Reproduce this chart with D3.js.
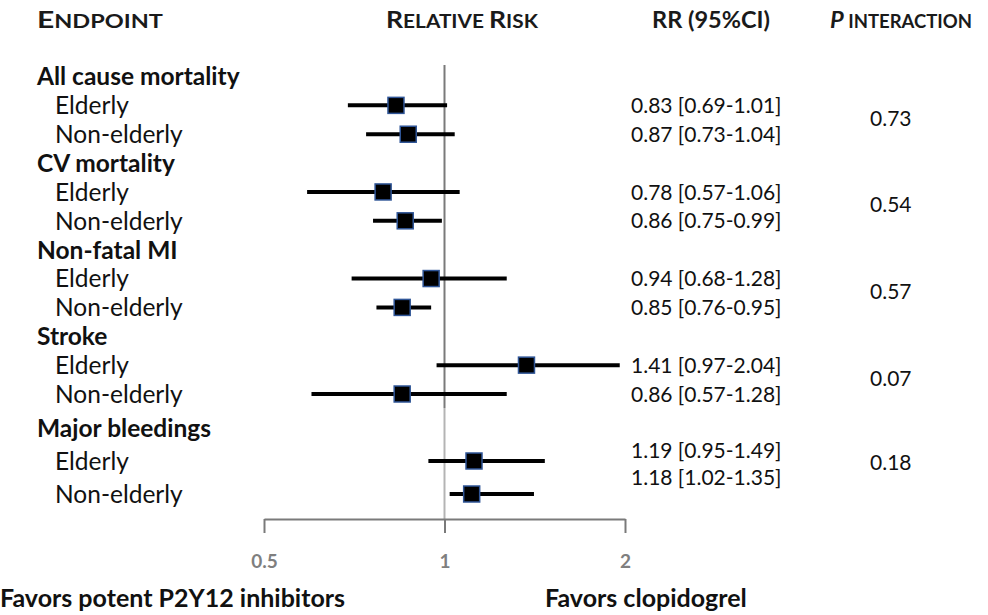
<!DOCTYPE html>
<html><head><meta charset="utf-8">
<script src="https://cdn.jsdelivr.net/npm/d3@7"></script>
<style>
html,body{margin:0;padding:0;background:#fff;}
svg{display:block;font-family:Lato,"Open Sans",sans-serif;}
</style></head>
<body>
<svg id="chart" width="988" height="615"></svg>
<script>
// ---- data ----
const endpoints = ["All cause mortality","CV mortality","Non-fatal MI","Stroke","Major bleedings"];
const subgroups = ["Elderly","Non-elderly"];
// point estimates and CI as plotted, in row order
const rrPlot = [0.83,0.87, 0.79,0.86, 0.95,0.85, 1.37,0.85, 1.12,1.11];
const loPlot = [0.69,0.74, 0.59,0.76, 0.70,0.77, 0.97,0.60, 0.94,1.02];
const hiPlot = [1.01,1.04, 1.06,0.99, 1.27,0.95, 1.96,1.27, 1.47,1.41];
const rrLabels = ["0.83 [0.69-1.01]","0.87 [0.73-1.04]","0.78 [0.57-1.06]","0.86 [0.75-0.99]",
  "0.94 [0.68-1.28]","0.85 [0.76-0.95]","1.41 [0.97-2.04]","0.86 [0.57-1.28]",
  "1.19 [0.95-1.49]","1.18 [1.02-1.35]"];
const pInteraction = ["0.73","0.54","0.57","0.07","0.18"];
const tickValues = [0.5,1,2];
const tickLabels = ["0.5","1","2"];

// ---- layout ----
const svg = d3.select("#chart");
const x = d3.scaleLog().base(2).domain([0.5,2]).range([264,625]);
// slot index: each endpoint uses 3 slots (header, elderly, non-elderly)
const rowY = d3.scaleLinear().domain([0,11,12,14]).range([76.5,394,428,494]);
const textRowY = d3.scaleLinear().domain([0,11,13,14]).range([76.5,394,450,477]);

// column headers (small caps)
function smallCaps(xp, y, len, parts){
  const t = svg.append("text").attr("x",xp).attr("y",y)
    .attr("font-weight","bold").attr("fill","#1a1a1a")
    .attr("textLength",len).attr("lengthAdjust","spacingAndGlyphs");
  parts.forEach(p=>t.append("tspan").attr("font-size",p[1]).attr("font-style",p[2]||null).text(p[0]));
}
smallCaps(37,28,126,[["E",23],["NDPOINT",18]]);
smallCaps(386,28,152,[["R",23],["ELATIVE ",18],["R",23],["ISK",18]]);
smallCaps(652,28,118,[["RR (95%CI)",23]]);
smallCaps(830,28,142,[["P",23,"italic"],[" INTERACTION",18]]);

// reference line at RR = 1
svg.append("line").attr("x1",x(1)).attr("x2",x(1)).attr("y1",65).attr("y2",408)
  .attr("stroke","#7a7a7a").attr("stroke-width",2);
svg.append("line").attr("x1",x(1)).attr("x2",x(1)).attr("y1",408).attr("y2",519)
  .attr("stroke","#b4b4b4").attr("stroke-width",2);

// axis
const axis = d3.axisBottom(x).tickValues(tickValues).tickFormat((d,i)=>tickLabels[i])
  .tickSizeInner(14).tickSizeOuter(0).tickPadding(22);
const ag = svg.append("g").attr("transform","translate(0,519)").call(axis);
ag.select(".domain").attr("stroke","#7a7a7a").attr("stroke-width",2);
ag.selectAll(".tick line").attr("stroke","#7a7a7a").attr("stroke-width",2);
ag.selectAll(".tick text").attr("fill","#7f7f7f").attr("font-size",19).attr("font-weight","bold")
  .attr("font-family",'Lato,"Open Sans",sans-serif');

// rows
const rows = [];
endpoints.forEach((e,gi)=>{
  subgroups.forEach((s,si)=>{
    const k = gi*2+si;
    rows.push({endpoint:e, sub:s, slot:gi*3+1+si, rr:rrPlot[k], lo:loPlot[k], hi:hiPlot[k], label:rrLabels[k]});
  });
});

// endpoint headers
svg.selectAll("text.ep").data(endpoints).enter().append("text").attr("class","ep")
  .attr("x",37).attr("y",(d,i)=>rowY(i*3)).attr("dy","0.36em")
  .attr("font-size",24.5).attr("font-weight","bold").attr("fill","#111").text(d=>d);
// subgroup labels
svg.selectAll("text.sg").data(rows).enter().append("text").attr("class","sg")
  .attr("x",55).attr("y",d=>rowY(d.slot)).attr("dy","0.36em")
  .attr("font-size",24.5).attr("fill","#111").text(d=>d.sub);

// CI lines
svg.selectAll("line.ci").data(rows).enter().append("line").attr("class","ci")
  .attr("x1",d=>x(d.lo)).attr("x2",d=>x(d.hi)).attr("y1",d=>rowY(d.slot)).attr("y2",d=>rowY(d.slot))
  .attr("stroke","#000").attr("stroke-width",4);
// markers
const ms = 16;
svg.selectAll("rect.pt").data(rows).enter().append("rect").attr("class","pt")
  .attr("x",d=>x(d.rr)-ms/2).attr("y",d=>rowY(d.slot)-ms/2).attr("width",ms).attr("height",ms)
  .attr("fill","#000").attr("stroke","#2f5597").attr("stroke-width",1.5);

// RR text
svg.selectAll("text.rr").data(rows).enter().append("text").attr("class","rr")
  .attr("x",631).attr("y",d=>textRowY(d.slot)).attr("dy","0.36em")
  .attr("font-size",21).attr("fill","#111").text(d=>d.label);
// p interaction
svg.selectAll("text.pv").data(pInteraction).enter().append("text").attr("class","pv")
  .attr("x",870).attr("y",(d,i)=>(textRowY(i*3+1)+textRowY(i*3+2))/2 - 1.5).attr("dy","0.36em")
  .attr("font-size",21).attr("fill","#111").text(d=>d);

// bottom labels
svg.append("text").attr("x",0).attr("y",607).attr("font-size",25)
  .attr("font-weight","bold").attr("fill","#111").text("Favors potent P2Y12 inhibitors");
svg.append("text").attr("x",545).attr("y",607).attr("font-size",25)
  .attr("font-weight","bold").attr("fill","#111").text("Favors clopidogrel");
</script>
</body></html>
